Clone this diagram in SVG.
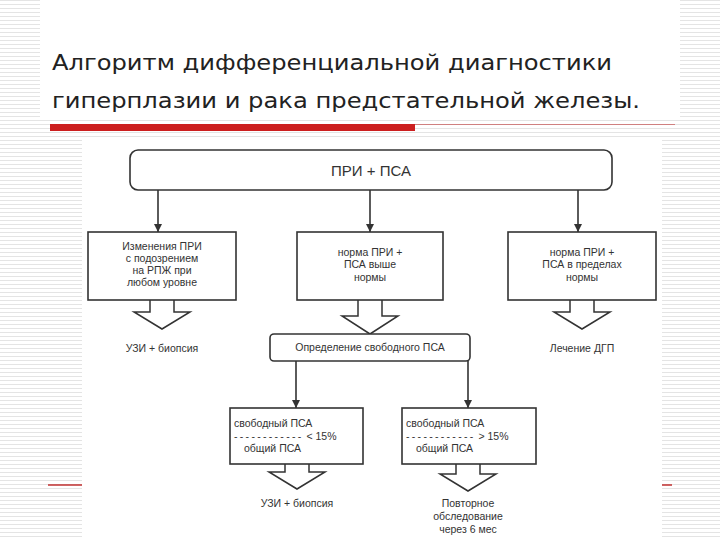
<svg xmlns="http://www.w3.org/2000/svg" width="720" height="540" viewBox="0 0 720 540">
<defs>
<pattern id="stripes" width="4" height="4" patternUnits="userSpaceOnUse"><rect width="4" height="4" fill="#fff"/><rect width="4" height="1" fill="#e4e4e4"/></pattern>
<marker id="ah" viewBox="0 0 10 10" refX="10" refY="5" markerWidth="8" markerHeight="8" orient="auto" markerUnits="userSpaceOnUse"><path d="M0,0 L10,5 L0,10 z" fill="#333"/></marker>
<style>
.title{font-family:"DejaVu Sans",sans-serif;font-size:22px;fill:#222}
.box{fill:#fff;stroke:#333;stroke-width:1.6}
.t{font-family:"Liberation Sans",Arial,sans-serif;font-size:10.5px;fill:#333;text-anchor:middle}
.tl{font-family:"Liberation Sans",Arial,sans-serif;font-size:10.5px;fill:#333}
.ln{stroke:#333;stroke-width:1.6;fill:none}
.hol{fill:#fff;stroke:#333;stroke-width:1.5}
</style>
</defs>
<rect width="720" height="540" fill="url(#stripes)"/>
<rect x="40" y="0" width="640" height="120" fill="#fff"/>
<rect x="82" y="137" width="580" height="403" fill="#fff"/>
<text class="title" x="52" y="70" textLength="560" lengthAdjust="spacingAndGlyphs">Алгоритм дифференциальной диагностики</text>
<text class="title" x="52" y="108" textLength="588" lengthAdjust="spacingAndGlyphs">гиперплазии и рака предстательной железы.</text>
<rect x="50" y="124" width="365" height="7" fill="#cc1f1f"/>
<line x1="415" y1="124.5" x2="675" y2="124.5" stroke="#d08080" stroke-width="1"/>
<line x1="48" y1="485" x2="82" y2="485" stroke="#c03030" stroke-width="1.5"/>
<line x1="662" y1="485" x2="672" y2="485" stroke="#c03030" stroke-width="1.5"/>

<g id="connectors">
<line class="ln" x1="158" y1="190" x2="158" y2="232" marker-end="url(#ah)"/>
<line class="ln" x1="370" y1="190" x2="370" y2="232" marker-end="url(#ah)"/>
<line class="ln" x1="578" y1="190" x2="578" y2="232" marker-end="url(#ah)"/>
<line class="ln" x1="296" y1="361" x2="296" y2="408" marker-end="url(#ah)"/>
<line class="ln" x1="468" y1="361" x2="468" y2="408" marker-end="url(#ah)"/>
<path class="hol" d="M150,300 V312 H134 L162,329 L190,312 H174 V300"/>
<path class="hol" d="M358,300 V316 H342 L370,334 L398,316 H382 V300"/>
<path class="hol" d="M570,300 V312 H554 L582,329 L610,312 H594 V300"/>
<path class="hol" d="M285,464 V472 H269 L297,489 L325,472 H309 V464"/>
<path class="hol" d="M456,464 V474 H440 L468,491 L496,474 H480 V464"/>
</g>

<g id="top"><rect class="box" x="130" y="150" width="482" height="40" rx="8"/><text class="t" x="371" y="176" style="font-size:15px">ПРИ + ПСА</text></g>
<g id="b1"><rect class="box" x="88" y="232" width="148" height="68"/>
<text class="t" x="162" y="250">Изменения ПРИ</text><text class="t" x="162" y="262">с подозрением</text><text class="t" x="162" y="274">на РПЖ при</text><text class="t" x="162" y="286">любом уровне</text></g>
<g id="b2"><rect class="box" x="297" y="232" width="146" height="68"/>
<text class="t" x="370" y="256">норма ПРИ +</text><text class="t" x="370" y="268">ПСА выше</text><text class="t" x="370" y="281">нормы</text></g>
<g id="b3"><rect class="box" x="508" y="232" width="148" height="68"/>
<text class="t" x="582" y="256">норма ПРИ +</text><text class="t" x="582" y="268">ПСА в пределах</text><text class="t" x="582" y="281">нормы</text></g>
<g id="r1"><text class="t" x="162" y="352">УЗИ + биопсия</text></g>
<g id="r3"><text class="t" x="582" y="352">Лечение ДГП</text></g>
<g id="free"><rect class="box" x="270" y="334" width="200" height="27" rx="4"/><text class="t" x="370" y="351">Определение свободного ПСА</text></g>
<g id="b4"><rect class="box" x="230" y="408" width="133" height="56"/>
<text class="tl" x="234" y="427">свободный ПСА</text><text class="tl" x="234" y="440"><tspan letter-spacing="2.3">------------</tspan> &lt; 15%</text><text class="tl" x="244" y="452">общий ПСА</text></g>
<g id="b5"><rect class="box" x="402" y="408" width="134" height="56"/>
<text class="tl" x="406" y="427">свободный ПСА</text><text class="tl" x="406" y="440"><tspan letter-spacing="2.3">------------</tspan> &gt; 15%</text><text class="tl" x="416" y="452">общий ПСА</text></g>
<g id="r4"><text class="t" x="297" y="507">УЗИ + биопсия</text></g>
<g id="r5"><text class="t" x="468" y="507">Повторное</text><text class="t" x="468" y="520">обследование</text><text class="t" x="468" y="533">через 6 мес</text></g>
</svg>
